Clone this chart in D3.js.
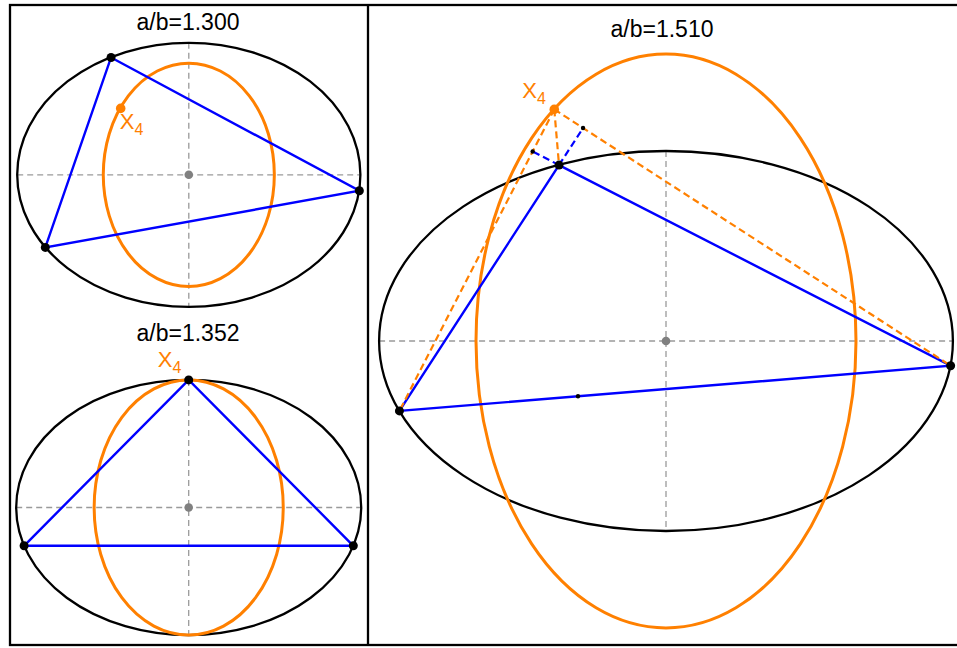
<!DOCTYPE html>
<html>
<head>
<meta charset="utf-8">
<script src="https://cdn.jsdelivr.net/npm/d3@7"></script>
<style>
  html, body { margin: 0; padding: 0; background: #fff; }
  svg { display: block; }
  text { font-family: "Liberation Sans", Arial, sans-serif; }
</style>
</head>
<body>
<svg id="chart" width="957" height="648"></svg>
<script>
// Aspect ratio a/b of the outer ellipse in each panel (b = 1)
const ratios = [1.300, 1.352, 1.510];
const titles = ratios.map(r => "a/b=" + r.toFixed(3));

// Semi-axes [horizontal, vertical] of the orange X4 locus in each panel
const locusAxes = [[0.648, 0.846], [0.741, 1.0], [1.0, 1.51]];

// Triangle vertices (ellipse units) for each panel
const verticesP1 = [[-0.589, 0.889], [1.292, -0.121], [-1.087, -0.550]];
const verticesP2 = [[0.0, 1.0], [-1.290, -0.300], [1.290, -0.300]];
const verticesP3 = [[-0.563, 0.926], [1.498, -0.130], [-1.403, -0.368]];
const vertices = [verticesP1, verticesP2, verticesP3];

// Orthocenter X4 of each triangle
const orthocenters = [[-0.516, 0.503], [0.0, 1.0], [-0.588, 1.219]];

// Panel placement: ellipse centre (px), pixels per unit, title position, X4 label offset
const layout = [
  { cx: 188.8, cy: 174.8, k: 132.0, tx: 188, ty: 30, lx: -1, ly: 21 },
  { cx: 188.7, cy: 507.5, k: 127.6, tx: 188, ty: 341, lx: -31, ly: -13 },
  { cx: 666.0, cy: 341.0, k: 190.0, tx: 662, ty: 37, lx: -32, ly: -11 }
];

const ORANGE = "#ff8000";
const BLUE = "#0000ff";
const GRAY = "#9a9a9a";

const svg = d3.select("#chart");

// Outer frame and divider between the left and right columns
svg.append("rect")
  .attr("x", 10).attr("y", 5).attr("width", 960).attr("height", 640)
  .attr("fill", "none").attr("stroke", "#000").attr("stroke-width", 2.3);
svg.append("line")
  .attr("x1", 368).attr("x2", 368).attr("y1", 5).attr("y2", 645)
  .attr("stroke", "#000").attr("stroke-width", 2.3);

function foot(p, a, b) {
  // perpendicular projection of p onto line ab
  const dx = b[0] - a[0], dy = b[1] - a[1];
  const t = ((p[0] - a[0]) * dx + (p[1] - a[1]) * dy) / (dx * dx + dy * dy);
  return [a[0] + t * dx, a[1] + t * dy];
}

ratios.forEach((ratio, i) => {
  const L = layout[i];
  const a = ratio, b = 1;
  const x = d3.scaleLinear().domain([-a, a]).range([L.cx - a * L.k, L.cx + a * L.k]);
  const y = d3.scaleLinear().domain([-b, b]).range([L.cy + b * L.k, L.cy - b * L.k]);
  const g = svg.append("g");

  // Title
  g.append("text")
    .attr("x", L.tx).attr("y", L.ty)
    .attr("text-anchor", "middle")
    .attr("font-size", 23)
    .attr("fill", "#000")
    .text(titles[i]);

  // Dashed axes of the ellipse
  g.append("line")
    .attr("x1", x(-a)).attr("x2", x(a)).attr("y1", y(0)).attr("y2", y(0))
    .attr("stroke", GRAY).attr("stroke-width", 1.3).attr("stroke-dasharray", "6,4");
  g.append("line")
    .attr("x1", x(0)).attr("x2", x(0)).attr("y1", y(b)).attr("y2", y(-b))
    .attr("stroke", GRAY).attr("stroke-width", 1.3).attr("stroke-dasharray", "6,4");

  // Outer ellipse
  g.append("ellipse")
    .attr("cx", x(0)).attr("cy", y(0))
    .attr("rx", x(a) - x(0)).attr("ry", y(0) - y(b))
    .attr("fill", "none").attr("stroke", "#000").attr("stroke-width", 2.3);

  // Locus of X4
  const [la, lb] = locusAxes[i];
  g.append("ellipse")
    .attr("cx", x(0)).attr("cy", y(0))
    .attr("rx", x(la) - x(0)).attr("ry", y(0) - y(lb))
    .attr("fill", "none").attr("stroke", ORANGE).attr("stroke-width", 3);

  // Triangle
  const V = vertices[i];
  g.append("path")
    .attr("d", d3.line().x(d => x(d[0])).y(d => y(d[1])).curve(d3.curveLinearClosed)(V))
    .attr("fill", "none").attr("stroke", BLUE).attr("stroke-width", 2.4);

  const H = orthocenters[i];

  if (i === 2) {
    const [A, B, C] = V;
    const fAB = foot(H, A, B);
    const fAC = foot(H, A, C);
    const fBC = foot(A, B, C);
    // Altitude lines meeting at X4
    [B, C, A].forEach(P => {
      g.append("line")
        .attr("x1", x(H[0])).attr("y1", y(H[1]))
        .attr("x2", x(P[0])).attr("y2", y(P[1]))
        .attr("stroke", ORANGE).attr("stroke-width", 2.2).attr("stroke-dasharray", "7,4");
    });
    // Sides extended past A to the altitude feet
    [fAB, fAC].forEach(F => {
      g.append("line")
        .attr("x1", x(A[0])).attr("y1", y(A[1]))
        .attr("x2", x(F[0])).attr("y2", y(F[1]))
        .attr("stroke", BLUE).attr("stroke-width", 2.2).attr("stroke-dasharray", "7,4");
    });
    [fAB, fAC, fBC].forEach(F => {
      g.append("circle")
        .attr("cx", x(F[0])).attr("cy", y(F[1])).attr("r", 2.2)
        .attr("fill", "#000");
    });
  }

  // Centre
  g.append("circle")
    .attr("cx", x(0)).attr("cy", y(0)).attr("r", 4.3)
    .attr("fill", "#808080");

  // Vertices
  g.selectAll("circle.vertex").data(V).enter().append("circle")
    .attr("class", "vertex")
    .attr("cx", d => x(d[0])).attr("cy", d => y(d[1])).attr("r", 4.5)
    .attr("fill", "#000");

  // X4 point and label
  if (i !== 1) {
    g.append("circle")
      .attr("cx", x(H[0])).attr("cy", y(H[1])).attr("r", 4.8)
      .attr("fill", ORANGE);
  }
  const lbl = g.append("text")
    .attr("x", x(H[0]) + L.lx).attr("y", y(H[1]) + L.ly)
    .attr("font-size", 22)
    .attr("fill", ORANGE);
  lbl.append("tspan").text("X");
  lbl.append("tspan").attr("font-size", 16).attr("dy", 6).text("4");
});
</script>
</body>
</html>
